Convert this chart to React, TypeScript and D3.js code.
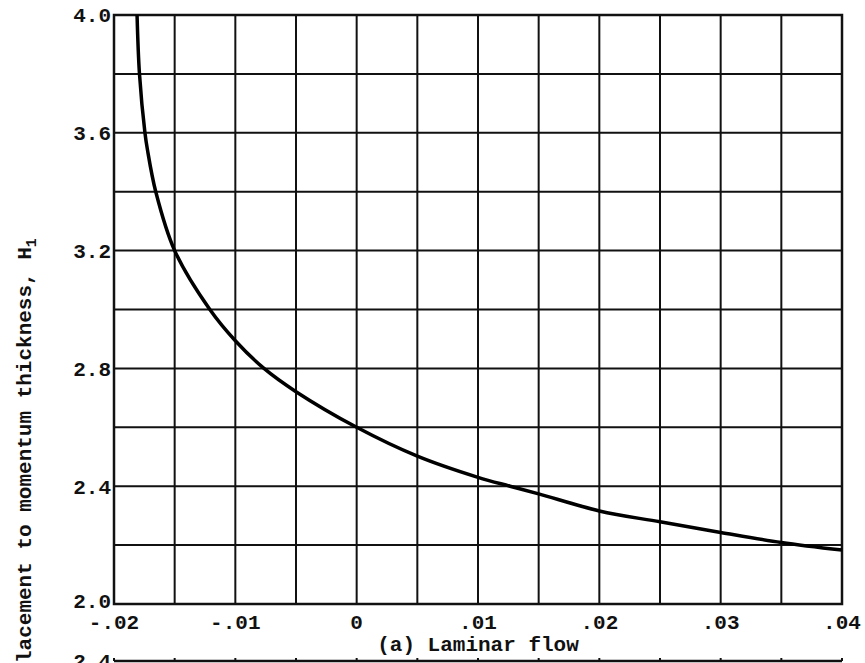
import React from 'react';
import * as d3 from 'd3';

// pressure-gradient parameter vs shape factor H1
const xValues = [-0.0181, -0.0179, -0.01745, -0.01725, -0.01656, -0.015, -0.0121, -0.01, -0.00764, -0.005, 0, 0.005, 0.01, 0.01264, 0.015, 0.02, 0.025, 0.03, 0.035, 0.04];
const hValues = [4.0, 3.8, 3.6, 3.544, 3.4, 3.2, 3.0, 2.894, 2.8, 2.721, 2.6, 2.502, 2.43, 2.4, 2.374, 2.316, 2.279, 2.243, 2.209, 2.183];

const xGrid = [-0.02, -0.015, -0.01, -0.005, 0, 0.005, 0.01, 0.015, 0.02, 0.025, 0.03, 0.035, 0.04];
const yGrid = [2.0, 2.2, 2.4, 2.6, 2.8, 3.0, 3.2, 3.4, 3.6, 3.8, 4.0];
const xTickLabels = [
  { v: -0.02, t: '-.02' },
  { v: -0.01, t: '-.01' },
  { v: 0, t: '0' },
  { v: 0.01, t: '.01' },
  { v: 0.02, t: '.02' },
  { v: 0.03, t: '.03' },
  { v: 0.04, t: '.04' },
];
const yTickLabels = [
  { v: 2.0, t: '2.0' },
  { v: 2.4, t: '2.4' },
  { v: 2.8, t: '2.8' },
  { v: 3.2, t: '3.2' },
  { v: 3.6, t: '3.6' },
  { v: 4.0, t: '4.0' },
];

const width = 865;
const height = 663;
const margin = { top: 15, right: 23, bottom: 59, left: 114 };
const font = '"Liberation Mono", "DejaVu Sans Mono", monospace';

export default function App() {
  const x = d3.scaleLinear()
    .domain([-0.02, 0.04])
    .range([margin.left, width - margin.right]);
  const y = d3.scaleLinear()
    .domain([2.0, 4.0])
    .range([height - margin.bottom, margin.top]);

  const points = xValues.map((v, i) => [v, hValues[i]] as [number, number]);
  const line = d3.line<[number, number]>()
    .x(d => x(d[0]))
    .y(d => y(d[1]))
    .curve(d3.curveCatmullRom.alpha(0.5));

  const x0 = x(-0.02);
  const x1 = x(0.04);
  const yTop = y(4.0);
  const yBot = y(2.0);
  const nextTop = 661; // top edge of the next panel, cut off by the page

  return (
    <svg width={width} height={height} style={{ position: 'absolute', left: 0, top: 0, background: '#fff' }}
      fontFamily={font} fontWeight="bold" fill="#111">
      {/* grid */}
      {xGrid.map(v => (
        <line key={'gx' + v} x1={x(v)} x2={x(v)} y1={yTop} y2={yBot} stroke="#111" strokeWidth={2} />
      ))}
      {yGrid.map(v => (
        <line key={'gy' + v} x1={x0} x2={x1} y1={y(v)} y2={y(v)} stroke="#111" strokeWidth={2} />
      ))}
      <rect x={x0} y={yTop} width={x1 - x0} height={yBot - yTop} fill="none" stroke="#111" strokeWidth={2.5} />

      {/* curve */}
      <path d={line(points) ?? ''} fill="none" stroke="#000" strokeWidth={3.5} strokeLinejoin="round" />

      {/* tick labels */}
      {yTickLabels.map(d => (
        <text key={'yl' + d.v} x={x0 - 3} y={y(d.v) + (d.v === 2.0 ? -3 : 0)} dy="0.35em" textAnchor="end" fontSize={21}>{d.t}</text>
      ))}
      {xTickLabels.map(d => (
        <text key={'xl' + d.v} x={x(d.v)} y={yBot + 25} textAnchor="middle" fontSize={21}>{d.t}</text>
      ))}
      <text x={(x0 + x1) / 2} y={651} textAnchor="middle" fontSize={21}>(a) Laminar flow</text>

      {/* axis title, partly cut off at the bottom of the page */}
      <text transform={`translate(31,${height}) rotate(-90)`} fontSize={21}>
        lacement to momentum thickness, H<tspan fontSize={15} dy={5}>1</tspan>
      </text>

      {/* start of the next panel */}
      <line x1={x0} x2={x1} y1={nextTop} y2={nextTop} stroke="#111" strokeWidth={2.5} />
      {xGrid.map(v => (
        <line key={'nx' + v} x1={x(v)} x2={x(v)} y1={nextTop} y2={nextTop - 3} stroke="#111" strokeWidth={2} />
      ))}
      <text x={x0 - 3} y={nextTop} dy="0.35em" textAnchor="end" fontSize={21}>2.4</text>
    </svg>
  );
}
